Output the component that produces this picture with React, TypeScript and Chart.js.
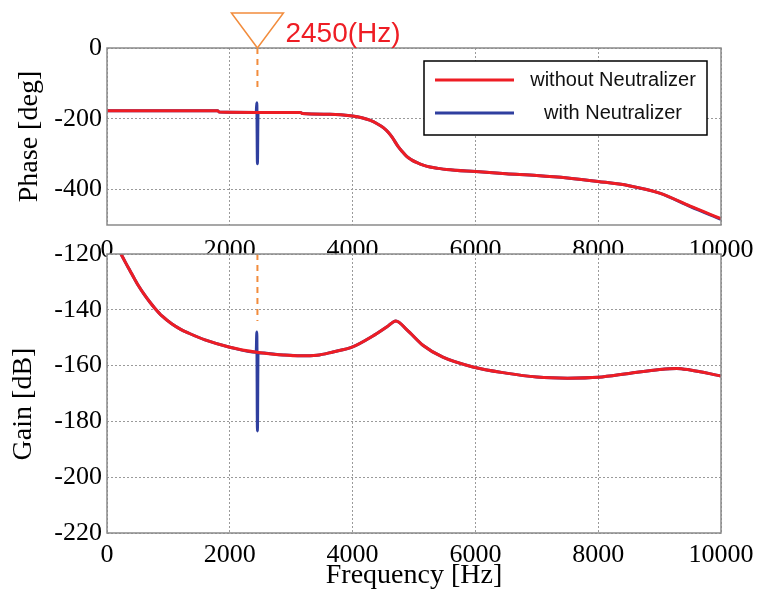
import React, { useEffect, useRef } from "react";
import { Chart, registerables } from "chart.js";

Chart.register(...registerables);

// ---------- data ----------
const seriesLabels = ["without Neutralizer", "with Neutralizer"];
const freqTicks = [0, 2000, 4000, 6000, 8000, 10000];
const phaseTicks = [0, -200, -400];
const gainTicks = [-120, -140, -160, -180, -200, -220];

const phaseFreqWithout = [0, 1000, 1800, 1830, 2450, 3150, 3180, 3630, 4000, 4150, 4280, 4400, 4500, 4580, 4640, 4740, 4800, 4885, 4960, 5050, 5150, 5260, 5400, 5530, 6000, 6500, 7000, 7500, 8000, 8500, 9000, 9500, 10000];
const phaseWithout = [-177, -177, -177, -181, -182, -182, -185, -187, -192, -197, -204, -214, -225, -238, -251, -278, -291, -307, -316, -324, -331, -336, -340, -343, -349, -355, -360, -367, -377, -389, -410, -447, -482];

const phaseFreqWith = [0, 1000, 1800, 1830, 2430, 2440, 2450, 2460, 3150, 3180, 3630, 4000, 4150, 4280, 4400, 4500, 4580, 4640, 4740, 4800, 4885, 4960, 5050, 5150, 5260, 5400, 5530, 6000, 6500, 7000, 7500, 8000, 8500, 9000, 9500, 10000];
const phaseWith = [-177, -177, -177, -181, -182, -155, -327, -182, -182, -185, -187, -192, -197, -204, -214, -225, -238, -251, -278, -291, -307, -316, -324, -331, -336, -340, -343, -349, -355, -360, -367, -377, -389, -410, -448, -484];

const gainFreqWithout = [228, 300, 375, 450, 510, 600, 700, 782, 900, 1053, 1200, 1324, 1596, 2000, 2440, 2870, 3150, 3420, 3680, 4000, 4330, 4560, 4705, 4885, 5150, 5470, 5960, 6500, 7000, 7500, 8000, 8500, 9000, 9280, 9500, 10000];
const gainWithout = [-120, -123, -126, -129, -131.3, -134.3, -137.3, -139.5, -142.3, -145, -147, -148.3, -150.8, -153.4, -155.2, -156.2, -156.5, -156.3, -155.1, -153.3, -149.4, -146.1, -144, -147.2, -152.8, -157, -160.5, -162.7, -164.1, -164.5, -164.2, -162.8, -161.4, -161, -161.6, -163.7];

const gainFreqWith = [228, 300, 375, 450, 510, 600, 700, 782, 900, 1053, 1200, 1324, 1596, 2000, 2430, 2440, 2450, 2460, 2870, 3150, 3420, 3680, 4000, 4330, 4560, 4705, 4885, 5150, 5470, 5960, 6500, 7000, 7500, 8000, 8500, 9000, 9280, 9500, 10000];
const gainWith = [-120, -123, -126, -129, -131.3, -134.3, -137.3, -139.5, -142.3, -145, -147, -148.3, -150.8, -153.4, -155.2, -148, -183.4, -155.4, -156.2, -156.5, -156.3, -155.1, -153.3, -149.4, -146.1, -144, -147.2, -152.8, -157, -160.5, -162.7, -164.1, -164.5, -164.2, -162.8, -161.4, -161, -161.6, -163.7];

const markerFreq = 2450;
const markerPhaseEnd = -118;
const markerGainEnd = -144;

// ---------- styles ----------
const RED = "#ee1d24";
const BLUE = "#2f3f9f";
const ORANGE = "#f28c3c";
const GRID = "#9a9a9a";
const FRAME = "#8a8a8a";
const SERIF = '"Liberation Serif", "Times New Roman", serif';
const SANS = '"Liberation Sans", Arial, sans-serif';

Chart.defaults.font.family = SERIF;
Chart.defaults.color = "#000";

const toPts = (xs: number[], ys: number[]) => xs.map((x, i) => ({ x, y: ys[i] }));

const makeDatasets = (fa: number[], ya: number[], fb: number[], yb: number[]) => [
  {
    label: seriesLabels[0],
    data: toPts(fa, ya),
    borderColor: RED,
    backgroundColor: RED,
    borderWidth: 3,
    pointRadius: 0,
    cubicInterpolationMode: "monotone" as const,
  },
  {
    label: seriesLabels[1],
    data: toPts(fb, yb),
    borderColor: BLUE,
    backgroundColor: BLUE,
    borderWidth: 3,
    pointRadius: 0,
    cubicInterpolationMode: "monotone" as const,
  },
];

const tickFont = { family: SERIF, size: 26 };
const titleFont = { family: SERIF, size: 28 };

const xScale = (height: number, withTitle: boolean, padding: number) => ({
  type: "linear" as const,
  min: 0,
  max: 10000,
  afterBuildTicks: (s: any) => {
    s.ticks = freqTicks.map((v) => ({ value: v }));
  },
  afterFit: (s: any) => {
    s.height = height;
    s.paddingLeft = 0;
    s.paddingRight = 0;
  },
  grid: { color: GRID, lineWidth: 1, drawTicks: false },
  border: { display: false, dash: [2, 2] },
  ticks: {
    autoSkip: false,
    maxRotation: 0,
    padding,
    color: "#000",
    font: tickFont,
    callback: (v: any) => String(v),
  },
  title: {
    display: withTitle,
    text: "Frequency [Hz]",
    color: "#000",
    font: titleFont,
    padding: { top: 0, bottom: 8 },
  },
});

const yScale = (min: number, max: number, ticks: number[], title: string, titlePad: number) => ({
  type: "linear" as const,
  min,
  max,
  afterBuildTicks: (s: any) => {
    s.ticks = ticks.map((v) => ({ value: v }));
  },
  afterFit: (s: any) => {
    s.width = 107;
  },
  grid: { color: GRID, lineWidth: 1, drawTicks: false },
  border: { display: false, dash: [2, 2] },
  ticks: {
    padding: 5,
    color: "#000",
    font: tickFont,
    callback: (v: any) => String(v),
  },
  title: {
    display: true,
    text: title,
    color: "#000",
    font: titleFont,
    padding: { top: titlePad, bottom: 0 },
  },
});

const framePlugin = {
  id: "frame",
  afterDatasetsDraw(chart: any) {
    const { ctx, chartArea: a } = chart;
    ctx.save();
    ctx.strokeStyle = FRAME;
    ctx.lineWidth = 1.5;
    ctx.strokeRect(a.left, a.top, a.right - a.left, a.bottom - a.top);
    ctx.restore();
  },
};

const whiteCanvasPlugin = {
  id: "whiteCanvas",
  beforeDraw(chart: any) {
    const { ctx } = chart;
    ctx.save();
    ctx.fillStyle = "#fff";
    ctx.fillRect(0, 0, chart.width, chart.height);
    ctx.restore();
  },
};

const whiteAreaPlugin = {
  id: "whiteArea",
  beforeDraw(chart: any) {
    const { ctx, chartArea: a } = chart;
    ctx.save();
    ctx.fillStyle = "#fff";
    ctx.fillRect(a.left, a.top, a.right - a.left, a.bottom - a.top);
    ctx.restore();
  },
};

const dashedMarker = (endValue: number) => ({
  id: "dashedMarker",
  beforeDatasetsDraw(chart: any) {
    const { ctx, chartArea: a, scales } = chart;
    const x = scales.x.getPixelForValue(markerFreq);
    const yEnd = scales.y.getPixelForValue(endValue);
    ctx.save();
    ctx.strokeStyle = ORANGE;
    ctx.lineWidth = 2;
    ctx.setLineDash([6, 5]);
    ctx.beginPath();
    ctx.moveTo(x, a.top);
    ctx.lineTo(x, yEnd);
    ctx.stroke();
    ctx.restore();
  },
});

const triangleMarker = {
  id: "triangleMarker",
  afterDraw(chart: any) {
    const { ctx, chartArea: a, scales } = chart;
    const x = scales.x.getPixelForValue(markerFreq);
    ctx.save();
    ctx.strokeStyle = ORANGE;
    ctx.lineWidth = 1.5;
    ctx.beginPath();
    ctx.moveTo(x, a.top);
    ctx.lineTo(x - 26, a.top - 35);
    ctx.lineTo(x + 26, a.top - 35);
    ctx.closePath();
    ctx.stroke();
    ctx.fillStyle = RED;
    ctx.font = `28px ${SANS}`;
    ctx.textAlign = "left";
    ctx.textBaseline = "alphabetic";
    ctx.fillText(`${markerFreq}(Hz)`, x + 28, a.top - 6);
    ctx.restore();
  },
};

const boxLegend = {
  id: "boxLegend",
  afterDraw(chart: any) {
    const { ctx, chartArea: a } = chart;
    const w = 283;
    const h = 74;
    const left = a.right - 14 - w;
    const top = a.top + 13;
    ctx.save();
    ctx.fillStyle = "#fff";
    ctx.fillRect(left, top, w, h);
    ctx.strokeStyle = "#000";
    ctx.lineWidth = 1.5;
    ctx.strokeRect(left, top, w, h);
    chart.data.datasets.forEach((ds: any, i: number) => {
      const y = top + 19 + i * 33;
      ctx.strokeStyle = ds.borderColor;
      ctx.lineWidth = 3;
      ctx.beginPath();
      ctx.moveTo(left + 11, y);
      ctx.lineTo(left + 90, y);
      ctx.stroke();
      ctx.fillStyle = "#111";
      ctx.font = `20px ${SANS}`;
      ctx.textAlign = "center";
      ctx.textBaseline = "middle";
      ctx.fillText(ds.label, left + 189, y);
    });
    ctx.restore();
  },
};

export default function App() {
  const topRef = useRef<HTMLCanvasElement>(null);
  const botRef = useRef<HTMLCanvasElement>(null);

  useEffect(() => {
    const common = {
      responsive: false,
      animation: false as const,
      plugins: { legend: { display: false }, tooltip: { enabled: false } },
      elements: { point: { radius: 0 } },
    };

    const top = new Chart(topRef.current as HTMLCanvasElement, {
      type: "line",
      data: { datasets: makeDatasets(phaseFreqWithout, phaseWithout, phaseFreqWith, phaseWith) as any },
      options: {
        ...common,
        layout: { padding: { left: 0, top: 48, right: 40, bottom: 0 } },
        scales: {
          x: xScale(375, false, 10) as any,
          y: yScale(-500, 0, phaseTicks, "Phase [deg]", 13) as any,
        },
      } as any,
      plugins: [whiteCanvasPlugin, dashedMarker(markerPhaseEnd), framePlugin, triangleMarker, boxLegend],
    });

    const bot = new Chart(botRef.current as HTMLCanvasElement, {
      type: "line",
      data: { datasets: makeDatasets(gainFreqWithout, gainWithout, gainFreqWith, gainWith) as any },
      options: {
        ...common,
        layout: { padding: { left: 0, top: 254, right: 40, bottom: 0 } },
        scales: {
          x: xScale(67, true, 7) as any,
          y: yScale(-220, -120, gainTicks, "Gain [dB]   ", 7) as any,
        },
      } as any,
      plugins: [whiteAreaPlugin, dashedMarker(markerGainEnd), framePlugin],
    });

    return () => {
      top.destroy();
      bot.destroy();
    };
  }, []);

  return (
    <div style={{ position: "absolute", left: 0, top: 0, width: 761, height: 600, background: "#fff" }}>
      <canvas ref={topRef} width={761} height={600} style={{ position: "absolute", left: 0, top: 0 }} />
      <canvas ref={botRef} width={761} height={600} style={{ position: "absolute", left: 0, top: 0 }} />
    </div>
  );
}
